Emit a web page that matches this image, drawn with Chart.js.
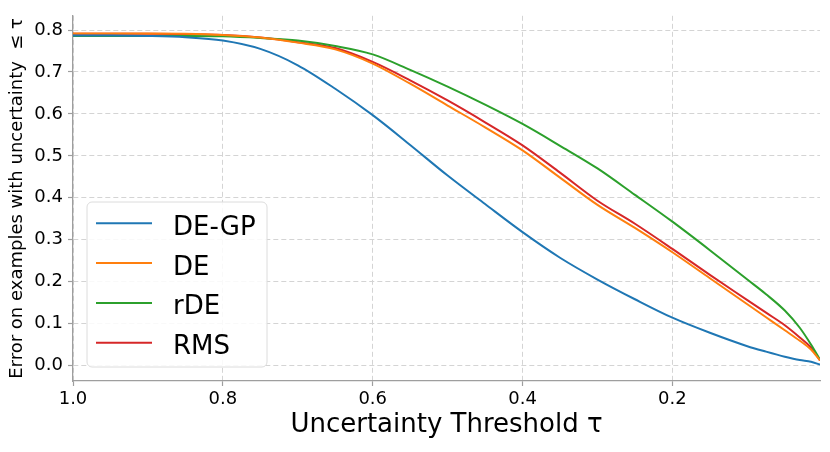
<!DOCTYPE html>
<html>
<head>
<meta charset="utf-8">
<script src="https://cdn.jsdelivr.net/npm/chart.js@4/dist/chart.umd.min.js"></script>
<style>
html,body{margin:0;padding:0;background:#fff;}
#wrap{width:830px;height:452px;position:relative;}
</style>
</head>
<body>
<div id="wrap"><canvas id="c" width="830" height="452"></canvas></div>
<script>
// Uncertainty thresholds (x, reversed axis)
const thresholds = [1.0, 0.95, 0.9, 0.85, 0.8, 0.75, 0.7, 0.65, 0.6, 0.55, 0.5, 0.45, 0.4, 0.35, 0.3, 0.25, 0.2, 0.15, 0.1, 0.075, 0.05, 0.03, 0.015, 0.003];
const seriesNames = ["DE-GP", "DE", "rDE", "RMS"];
const deGP = [0.787, 0.787, 0.786, 0.783, 0.775, 0.755, 0.716, 0.660, 0.597, 0.526, 0.453, 0.385, 0.318, 0.257, 0.205, 0.158, 0.114, 0.078, 0.046, 0.033, 0.021, 0.013, 0.009, 0.002];
const de   = [0.792, 0.792, 0.792, 0.791, 0.788, 0.782, 0.770, 0.754, 0.720, 0.672, 0.620, 0.568, 0.513, 0.448, 0.383, 0.328, 0.270, 0.208, 0.146, 0.115, 0.084, 0.059, 0.038, 0.012];
const rde  = [0.786, 0.786, 0.786, 0.786, 0.785, 0.781, 0.775, 0.762, 0.742, 0.705, 0.665, 0.622, 0.576, 0.524, 0.470, 0.407, 0.343, 0.275, 0.205, 0.170, 0.131, 0.090, 0.050, 0.014];
const rms  = [0.791, 0.791, 0.791, 0.790, 0.788, 0.782, 0.771, 0.757, 0.724, 0.680, 0.632, 0.580, 0.525, 0.460, 0.393, 0.338, 0.278, 0.216, 0.156, 0.126, 0.096, 0.067, 0.043, 0.012];
const xTicks = [1.0, 0.8, 0.6, 0.4, 0.2];
const yTicks = [0.0, 0.1, 0.2, 0.3, 0.4, 0.5, 0.6, 0.7, 0.8];

const colors = ["#1f77b4", "#ff7f0e", "#2ca02c", "#d62728"];
const allSeries = [deGP, de, rde, rms];
const FONT = "DejaVu Sans";

const datasets = allSeries.map((vals, i) => ({
  label: seriesNames[i],
  data: thresholds.map((t, j) => ({x: t, y: vals[j]})),
  borderColor: colors[i],
  backgroundColor: colors[i],
  borderWidth: 2,
  pointRadius: 0,
  fill: false,
  cubicInterpolationMode: 'monotone'
}));

const legendPlugin = {
  id: 'innerLegend',
  afterDatasetsDraw(chart) {
    const ctx = chart.ctx;
    const bx = 87, by = 202, bw = 180, bh = 165, r = 5;
    ctx.save();
    ctx.beginPath();
    ctx.moveTo(bx + r, by);
    ctx.arcTo(bx + bw, by, bx + bw, by + bh, r);
    ctx.arcTo(bx + bw, by + bh, bx, by + bh, r);
    ctx.arcTo(bx, by + bh, bx, by, r);
    ctx.arcTo(bx, by, bx + bw, by, r);
    ctx.closePath();
    ctx.fillStyle = 'rgba(255,255,255,0.85)';
    ctx.fill();
    ctx.strokeStyle = '#dcdcdc';
    ctx.lineWidth = 1;
    ctx.stroke();
    chart.data.datasets.forEach((ds, i) => {
      const ly = 223.3 + i * 39.8;
      ctx.beginPath();
      ctx.moveTo(96, ly);
      ctx.lineTo(152, ly);
      ctx.strokeStyle = ds.borderColor;
      ctx.lineWidth = 2;
      ctx.stroke();
      ctx.fillStyle = '#000';
      ctx.font = '26px "' + FONT + '"';
      ctx.textBaseline = 'alphabetic';
      ctx.textAlign = 'left';
      ctx.fillText(ds.label, 173, ly + 11.5);
    });
    ctx.restore();
  }
};

const gridOpts = {
  color: '#d4d4d4',
  lineWidth: 1,
  drawTicks: true,
  tickLength: 5,
  tickColor: '#9e9e9e',
  tickBorderDash: [],
  tickWidth: 1.2
};

new Chart(document.getElementById('c'), {
  type: 'line',
  data: { datasets },
  options: {
    responsive: false,
    animation: false,
    layout: { padding: { left: 0, right: 10, top: 10, bottom: 0 } },
    plugins: { legend: { display: false }, tooltip: { enabled: false } },
    scales: {
      x: {
        type: 'linear',
        reverse: true,
        min: 0.003,
        max: 1.0,
        afterBuildTicks: (s) => { s.ticks = xTicks.map(v => ({value: v})); },
        afterFit: (s) => { s.height = 71; },
        ticks: {
          color: '#000',
          font: { family: FONT, size: 18 },
          padding: 3,
          maxRotation: 0,
          autoSkip: false,
          callback: (v) => v.toFixed(1)
        },
        grid: gridOpts,
        border: { display: true, color: '#9e9e9e', width: 1.3, dash: [5, 3] },
        title: {
          display: true,
          text: 'Uncertainty Threshold τ',
          color: '#000',
          font: { family: FONT, size: 26 },
          padding: { top: 0, bottom: 11 }
        }
      },
      y: {
        type: 'linear',
        min: -0.037,
        max: 0.834,
        afterBuildTicks: (s) => { s.ticks = yTicks.map(v => ({value: v})); },
        afterFit: (s) => { s.width = 73; },
        ticks: {
          color: '#000',
          font: { family: FONT, size: 18 },
          padding: 5,
          autoSkip: false,
          callback: (v) => v.toFixed(1)
        },
        grid: gridOpts,
        border: { display: true, color: '#9e9e9e', width: 1.3, dash: [5, 3] },
        title: {
          display: true,
          text: 'Error on examples with uncertainty  ≤ τ',
          color: '#000',
          font: { family: FONT, size: 18 },
          padding: { top: 7, bottom: 0 }
        }
      }
    }
  },
  plugins: [legendPlugin]
});
</script>
</body>
</html>
